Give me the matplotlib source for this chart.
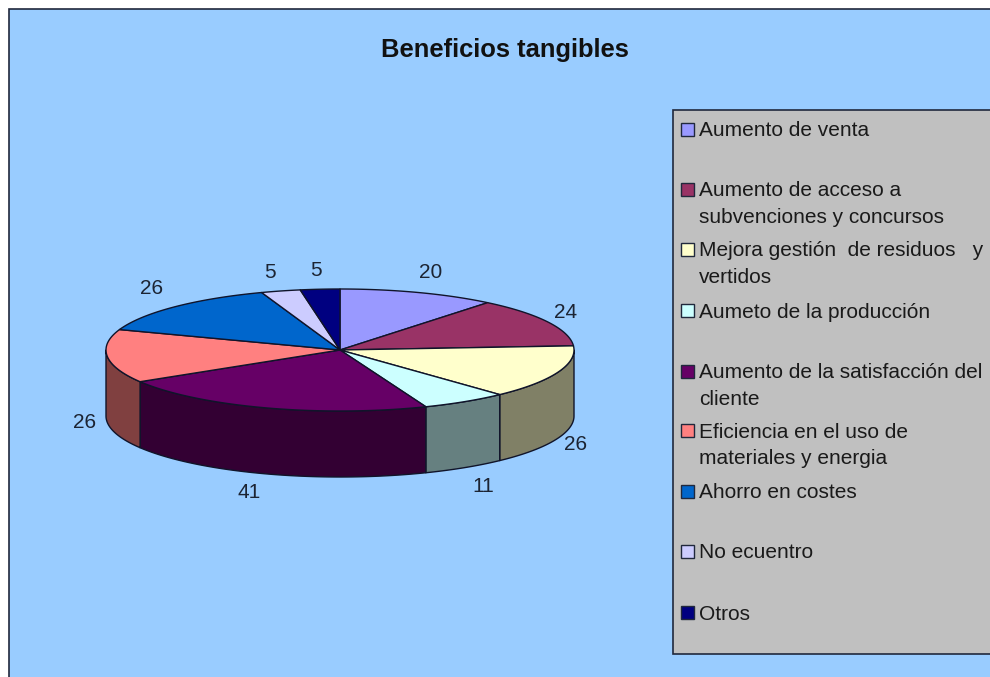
#!/usr/bin/env python3
import numpy as np
import matplotlib.pyplot as plt
from matplotlib.patches import Rectangle

plt.rcParams["font.family"] = ["Liberation Sans", "DejaVu Sans"]

values = [20, 24, 26, 11, 41, 26, 26, 5, 5]
top_colors = ["#9999FF", "#993366", "#FFFFCC", "#CCFFFF", "#660066",
              "#FF8080", "#0066CC", "#CCCCFF", "#000080"]
legend_labels = [
    "Aumento de venta",
    "Aumento de acceso a\nsubvenciones y concursos",
    "Mejora gestión  de residuos   y\nvertidos",
    "Aumeto de la producción",
    "Aumento de la satisfacción del\ncliente",
    "Eficiencia en el uso de\nmateriales y energia",
    "Ahorro en costes",
    "No ecuentro",
    "Otros",
]

# layout, in pixels of the 990x677 picture
legend_rows = [130, 190, 250, 311, 372, 431, 492, 552, 613]
label_xy = [(431, 273), (566, 312), (576, 444), (483, 486), (249, 493),
            (85, 423), (152, 288), (270, 272), (316, 271)]
CX, CY, RX, RY, DEPTH = 340, 350, 234, 61, 66
EDGE = "#10142a"


def ellipse_pts(a0, a1, dy=0):
    # angles are degrees clockwise from north, like the pie itself
    t = np.radians(np.linspace(a0, a1, max(int(abs(a1 - a0)) * 2, 2)))
    return CX + RX * np.sin(t), CY + dy - RY * np.cos(t)


def darker(color):
    r, g, b = plt.matplotlib.colors.to_rgb(color)
    return (r * 0.5, g * 0.5, b * 0.5)


fig = plt.figure(figsize=(9.9, 6.77), dpi=100)
ax = fig.add_axes([0, 0, 1, 1])
ax.set_xlim(0, 990)
ax.set_ylim(677, 0)
ax.axis("off")

ax.add_patch(Rectangle((9, 9), 990, 700, fc="#99CCFF", ec="#20283c", lw=1.2))
ax.text(505, 50, "Beneficios tangibles", fontsize=18.4, fontweight="bold",
        ha="center", va="center", color="#111111")

edges = np.concatenate([[0], np.cumsum(values)]) / sum(values) * 360

# side wall, only the front half of the rim can be seen
for i, color in enumerate(top_colors):
    a0, a1 = max(edges[i], 90), min(edges[i + 1], 270)
    if a0 >= a1:
        continue
    x, y = ellipse_pts(a0, a1)
    xb, yb = ellipse_pts(a1, a0, DEPTH)
    ax.fill(np.r_[x, xb], np.r_[y, yb], fc=darker(color), ec=EDGE, lw=1.0,
            joinstyle="round")

# top face
for i, color in enumerate(top_colors):
    x, y = ellipse_pts(edges[i], edges[i + 1])
    ax.fill(np.r_[CX, x], np.r_[CY, y], fc=color, ec=EDGE, lw=1.0,
            joinstyle="round")

for val, (lx, ly) in zip(values, label_xy):
    ax.text(lx, ly, str(val), fontsize=15, ha="center", va="center",
            color="#1c2433")

# legend box, runs off the right edge
ax.add_patch(Rectangle((673, 110), 340, 544, fc="#C0C0C0", ec="#20283c", lw=1.2))
for label, color, row in zip(legend_labels, top_colors, legend_rows):
    ax.add_patch(Rectangle((680.5, row - 7), 13, 13, fc=color, ec="#20283c", lw=1.0))
    ax.text(699, row - 8.5, label, fontsize=15, ha="left", va="top",
            color="#1a1a1a", linespacing=1.52)

fig.savefig("out.png", dpi=100)
plt.close(fig)
